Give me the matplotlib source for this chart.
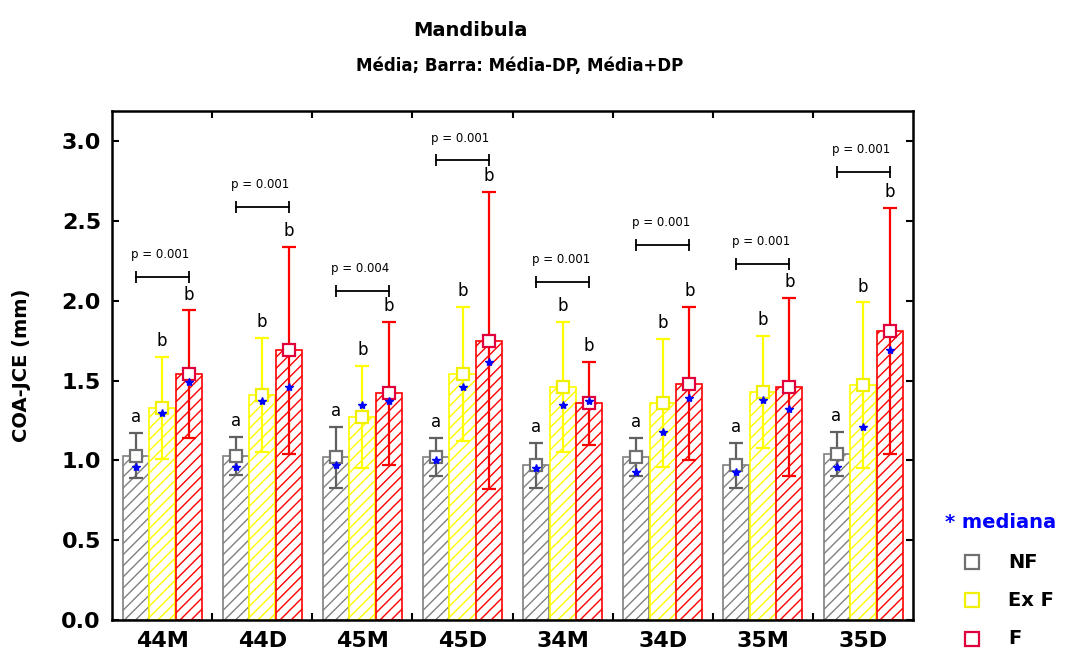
import numpy as np
import matplotlib.pyplot as plt
from matplotlib.lines import Line2D

groups = ['44M', '44D', '45M', '45D', '34M', '34D', '35M', '35D']
series = ['NF', 'Ex F', 'F']

mean_nf = [1.03, 1.03, 1.02, 1.02, 0.97, 1.02, 0.97, 1.04]
sd_nf = [0.14, 0.12, 0.19, 0.12, 0.14, 0.12, 0.14, 0.14]
med_nf = [0.96, 0.96, 0.97, 1.00, 0.95, 0.93, 0.93, 0.96]

mean_exf = [1.33, 1.41, 1.27, 1.54, 1.46, 1.36, 1.43, 1.47]
sd_exf = [0.32, 0.36, 0.32, 0.42, 0.41, 0.40, 0.35, 0.52]
med_exf = [1.30, 1.37, 1.35, 1.46, 1.35, 1.18, 1.38, 1.21]

mean_f = [1.54, 1.69, 1.42, 1.75, 1.36, 1.48, 1.46, 1.81]
sd_f = [0.40, 0.65, 0.45, 0.93, 0.26, 0.48, 0.56, 0.77]
med_f = [1.49, 1.46, 1.37, 1.62, 1.37, 1.39, 1.32, 1.69]

letters = ['a', 'b', 'b']
p_labels = ['p = 0.001', 'p = 0.001', 'p = 0.004', 'p = 0.001',
            'p = 0.001', 'p = 0.001', 'p = 0.001', 'p = 0.001']
bracket_y = [2.15, 2.59, 2.06, 2.88, 2.12, 2.35, 2.23, 2.81]

means = [mean_nf, mean_exf, mean_f]
sds = [sd_nf, sd_exf, sd_f]
meds = [med_nf, med_exf, med_f]

bar_col = ['#808080', '#ffff00', '#ff0000']
err_col = ['#606060', '#ffff00', '#ff0000']
sq_col = ['#707070', '#f0f000', '#e0003c']

plt.rcParams['hatch.linewidth'] = 1.0

fig = plt.figure(figsize=(10.69, 6.57), dpi=100)
ax = fig.add_axes([0.1048, 0.0563, 0.7494, 0.7747])

x = np.arange(len(groups))
w = 0.26
offs = [-0.265, 0.0, 0.265]

for k in range(3):
    xs = x + offs[k]
    m = np.array(means[k])
    s = np.array(sds[k])
    ax.bar(xs, m, width=w, color='white', edgecolor=bar_col[k],
           hatch='///', linewidth=1.2, zorder=2)
    ax.errorbar(xs, m, yerr=s, fmt='none', ecolor=err_col[k],
                elinewidth=1.6, capsize=5, capthick=1.6, zorder=3)
    ax.plot(xs, m, 's', ms=9, mfc='white', mec=sq_col[k], mew=1.6,
            linestyle='none', zorder=4)
    ax.plot(xs, meds[k], '*', ms=6, color='#0000ff', linestyle='none',
            zorder=5)
    for i in range(len(groups)):
        ax.text(xs[i], m[i] + s[i] + 0.1, letters[k], ha='center',
                va='center', fontsize=12, zorder=6)

# p-value brackets from NF to F
for i in range(len(groups)):
    x0 = x[i] + offs[0]
    x1 = x[i] + offs[2]
    yb = bracket_y[i]
    ax.plot([x0, x1], [yb, yb], color='black', lw=1.3, zorder=6)
    ax.plot([x0, x1], [yb, yb], '|', color='black', ms=8, mew=1.3,
            zorder=6)
    ax.text((x0 + x1) / 2 - 0.02, yb + 0.14, p_labels[i], ha='center',
            va='center', fontsize=8.5, zorder=6)

ax.set_xlim(-0.5, len(groups) - 0.5)
ax.set_ylim(0, 3.19)
ax.set_yticks(np.arange(0, 3.01, 0.5))
ax.set_yticklabels(['%.1f' % v for v in np.arange(0, 3.01, 0.5)],
                   fontsize=16, fontweight='bold')
ax.set_xticks(x)
ax.set_xticklabels(groups, fontsize=16, fontweight='bold')
ax.set_xticks(x[:-1] + 0.5, minor=True)
ax.tick_params(axis='x', which='major', length=0, pad=8)
ax.tick_params(axis='x', which='minor', direction='in', length=5,
               top=True, bottom=True, width=1.5)
ax.tick_params(axis='y', direction='in', length=5, left=True, right=True,
               width=1.5, pad=8)
for sp in ax.spines.values():
    sp.set_linewidth(1.8)

ax.set_ylabel('COA-JCE (mm)', fontsize=14, fontweight='bold', labelpad=22)

fig.text(470 / 1069, 1 - 30 / 657, 'Mandibula', ha='center', va='center',
         fontsize=14, fontweight='bold')
fig.text(520 / 1069, 1 - 66 / 657, 'Média; Barra: Média-DP, Média+DP',
         ha='center', va='center', fontsize=12, fontweight='bold')

# legend on the right
fig.text(945 / 1069, 1 - 522 / 657, '* mediana', color='#0000ff',
         ha='left', va='center', fontsize=14, fontweight='bold')
leg_y = [562, 600, 639]
for k in range(3):
    yy = 1 - leg_y[k] / 657
    fig.add_artist(Line2D([972 / 1069], [yy], marker='s', ms=10,
                          mfc='white', mec=sq_col[k], mew=1.6,
                          linestyle='none', transform=fig.transFigure))
    fig.text(1008 / 1069, yy, series[k], ha='left', va='center',
             fontsize=14, fontweight='bold')

fig.savefig('out.png', dpi=100)
